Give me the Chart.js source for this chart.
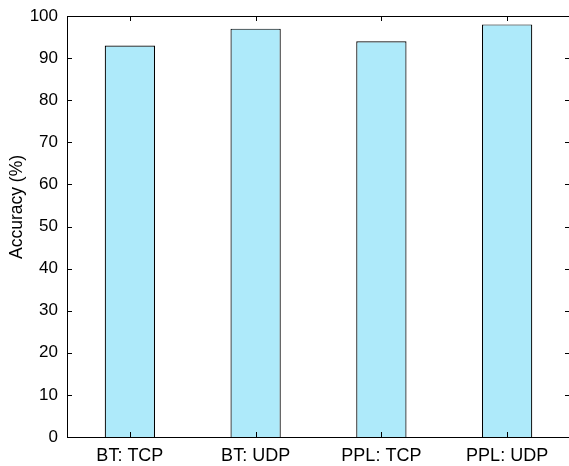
<!DOCTYPE html>
<html>
<head>
<meta charset="utf-8">
<script src="https://cdn.jsdelivr.net/npm/chart.js@4/dist/chart.umd.min.js"></script>
<style>
html,body{margin:0;padding:0;overflow:hidden;background:#fff;}
#wrap{width:572px;height:466px;}
</style>
</head>
<body>
<div id="wrap"><canvas id="c" width="572" height="466" style="width:572px;height:466px;"></canvas></div>
<script>
const categories = ["BT: TCP", "BT: UDP", "PPL: TCP", "PPL: UDP"];
const accuracy = [93, 97, 94, 98];
const yTicks = [0, 10, 20, 30, 40, 50, 60, 70, 80, 90, 100];
const yTitle = "Accuracy (%)";

const FONT = "'Liberation Sans', Arial, Helvetica, sans-serif";

const framePlugin = {
  id: 'frame',
  afterDatasetsDraw(chart) {
    const ctx = chart.ctx;
    const a = chart.chartArea;
    const xs = chart.scales.x, ys = chart.scales.y;
    const L = 5;
    ctx.save();
    ctx.strokeStyle = '#000';
    ctx.lineWidth = 1;
    ctx.beginPath();
    ctx.moveTo(a.left, Math.round(a.top) + 0.5);
    ctx.lineTo(a.right, Math.round(a.top) + 0.5);
    yTicks.forEach(v => {
      const y = Math.round(ys.getPixelForValue(v)) + 0.5;
      ctx.moveTo(a.left, y); ctx.lineTo(a.left + L, y);
      ctx.moveTo(a.right, y); ctx.lineTo(a.right - L, y);
    });
    categories.forEach((c, i) => {
      const x = Math.round(xs.getPixelForValue(i)) + 0.5;
      ctx.moveTo(x, a.top); ctx.lineTo(x, a.top + L);
      ctx.moveTo(x, a.bottom); ctx.lineTo(x, a.bottom - L);
    });
    ctx.stroke();
    ctx.fillStyle = '#000';
    ctx.font = '17.5px ' + FONT;
    ctx.textAlign = 'center';
    ctx.textBaseline = 'middle';
    ctx.translate(17, 207);
    ctx.rotate(-Math.PI / 2);
    ctx.fillText(yTitle, 0, 0);
    ctx.restore();
  }
};

new Chart(document.getElementById('c'), {
  type: 'bar',
  data: {
    labels: categories,
    datasets: [{
      data: accuracy,
      backgroundColor: '#aeeafa',
      borderColor: '#000',
      borderWidth: 1.2,
      borderSkipped: 'bottom',
      barPercentage: 0.4,
      categoryPercentage: 1.0
    }]
  },
  options: {
    responsive: false,
    animation: false,
    devicePixelRatio: 1,
    layout: { padding: { left: 0, right: 2, top: 16, bottom: 0 } },
    plugins: { legend: { display: false }, tooltip: { enabled: false } },
    scales: {
      x: {
        grid: { display: false, drawTicks: false },
        border: { display: true, color: '#000', width: 1 },
        ticks: { color: '#000', font: { family: FONT, size: 18 }, padding: 8, maxRotation: 0 },
        afterFit(s) { s.height = 29; s.paddingLeft = 0; s.paddingRight = 0; }
      },
      y: {
        min: 0, max: 100,
        grid: { display: false, drawTicks: false },
        border: { display: true, color: '#000', width: 1 },
        ticks: { stepSize: 10, color: '#000', font: { family: FONT, size: 17 }, padding: 9 },
        afterFit(s) { s.width = 67; s.paddingTop = 0; s.paddingBottom = 0; }
      }
    }
  },
  plugins: [framePlugin]
});
</script>
</body>
</html>
